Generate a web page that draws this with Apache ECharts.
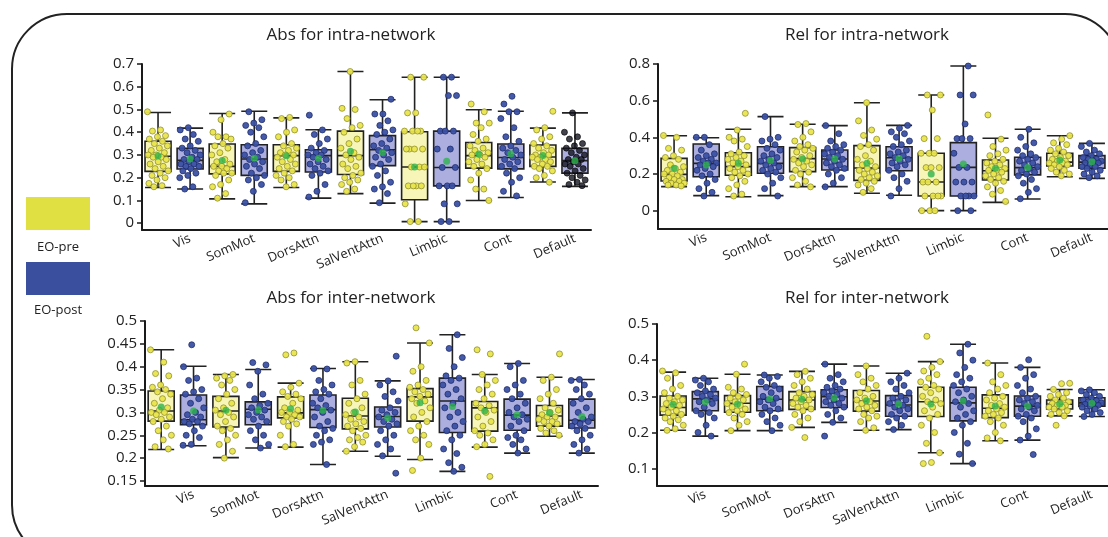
<!DOCTYPE html>
<html>
<head>
<meta charset="utf-8">
<script src="https://cdn.jsdelivr.net/npm/echarts@6/dist/echarts.min.js"></script>
<style>
html,body{margin:0;padding:0;background:#fff;}
#chart{width:1108px;height:537px;}
</style>
</head>
<body>
<div id="chart"></div>
<script>
// ---------- DATA ----------
const networks = ['Vis','SomMot','DorsAttn','SalVentAttn','Limbic','Cont','Default'];
const groups = ['EO-pre','EO-post'];
const panelTitles = ['Abs for intra-network','Rel for intra-network','Abs for inter-network','Rel for inter-network'];

// y tick labels per panel
const absIntraTicks = [0,0.1,0.2,0.3,0.4,0.5,0.6,0.7];
const relIntraTicks = [0,0.2,0.4,0.6,0.8];
const absInterTicks = [0.15,0.2,0.25,0.3,0.35,0.4,0.45,0.5];
const relInterTicks = [0.1,0.2,0.3,0.4,0.5];

// box stats [min, Q1, median, Q3, max], order: Vis-pre, Vis-post, SomMot-pre, ...
const absIntraBox = [
 [0.157,0.228,0.294,0.360,0.487],[0.150,0.238,0.276,0.329,0.418],
 [0.107,0.217,0.250,0.348,0.482],[0.085,0.210,0.282,0.345,0.492],
 [0.157,0.228,0.297,0.345,0.463],[0.110,0.225,0.297,0.323,0.411],
 [0.130,0.214,0.297,0.405,0.667],[0.088,0.253,0.323,0.385,0.543],
 [0.007,0.103,0.247,0.402,0.642],[0.007,0.164,0.245,0.405,0.642],
 [0.100,0.242,0.297,0.355,0.499],[0.113,0.239,0.289,0.348,0.492],
 [0.181,0.250,0.291,0.344,0.418],[0.162,0.220,0.275,0.329,0.485]
];
const absIntraMean = [0.297,0.282,0.276,0.286,0.297,0.285,0.316,0.311,0.247,0.272,0.304,0.305,0.298,0.275];
const absIntraPoints = [
 [0.49,0.41,0.405,0.385,0.38,0.37,0.36,0.35,0.34,0.33,0.32,0.31,0.30,0.30,0.29,0.29,0.28,0.27,0.26,0.25,0.24,0.23,0.22,0.21,0.20,0.19,0.175,0.165,0.16],
 [0.42,0.41,0.39,0.37,0.36,0.34,0.33,0.32,0.31,0.30,0.29,0.28,0.28,0.27,0.26,0.26,0.25,0.25,0.24,0.23,0.22,0.21,0.20,0.16,0.15],
 [0.48,0.455,0.40,0.38,0.38,0.37,0.35,0.34,0.33,0.31,0.30,0.28,0.27,0.26,0.25,0.25,0.24,0.23,0.22,0.22,0.21,0.19,0.17,0.16,0.13,0.11],
 [0.49,0.455,0.44,0.43,0.42,0.40,0.38,0.35,0.34,0.32,0.31,0.30,0.29,0.28,0.27,0.26,0.25,0.24,0.22,0.21,0.20,0.19,0.17,0.14,0.09],
 [0.465,0.46,0.41,0.40,0.38,0.35,0.34,0.33,0.32,0.31,0.30,0.30,0.29,0.28,0.27,0.26,0.25,0.24,0.23,0.22,0.21,0.20,0.19,0.17,0.16],
 [0.475,0.41,0.39,0.37,0.35,0.33,0.32,0.31,0.30,0.30,0.29,0.28,0.27,0.26,0.25,0.24,0.23,0.22,0.21,0.17,0.14,0.115],
 [0.667,0.505,0.50,0.46,0.43,0.42,0.40,0.37,0.35,0.33,0.31,0.30,0.29,0.28,0.26,0.25,0.24,0.22,0.21,0.20,0.19,0.18,0.17,0.15,0.14],
 [0.545,0.48,0.48,0.45,0.43,0.41,0.40,0.39,0.37,0.35,0.34,0.33,0.32,0.31,0.30,0.29,0.28,0.26,0.25,0.23,0.21,0.18,0.16,0.15,0.13,0.09],
 [0.642,0.642,0.485,0.485,0.405,0.405,0.405,0.405,0.326,0.326,0.326,0.326,0.247,0.247,0.247,0.164,0.164,0.164,0.164,0.085,0.007,0.007],
 [0.642,0.642,0.561,0.561,0.405,0.405,0.405,0.326,0.326,0.245,0.245,0.164,0.164,0.164,0.085,0.085,0.007,0.007],
 [0.524,0.49,0.44,0.44,0.42,0.39,0.37,0.36,0.34,0.33,0.32,0.31,0.30,0.30,0.29,0.28,0.27,0.26,0.25,0.24,0.22,0.19,0.15,0.15,0.10],
 [0.558,0.524,0.49,0.49,0.46,0.42,0.38,0.36,0.34,0.33,0.32,0.31,0.30,0.29,0.28,0.27,0.26,0.25,0.24,0.22,0.20,0.18,0.14,0.12],
 [0.492,0.42,0.41,0.38,0.37,0.35,0.34,0.33,0.32,0.31,0.30,0.30,0.29,0.29,0.28,0.28,0.27,0.26,0.25,0.25,0.24,0.23,0.21,0.20,0.18],
 [0.485,0.40,0.38,0.37,0.35,0.34,0.33,0.32,0.31,0.30,0.29,0.28,0.28,0.27,0.26,0.26,0.25,0.24,0.23,0.22,0.21,0.20,0.19,0.18,0.17,0.165]
];

const relIntraBox = [
 [0.131,0.162,0.198,0.285,0.409],[0.082,0.185,0.258,0.364,0.398],
 [0.076,0.193,0.240,0.316,0.444],[0.082,0.204,0.258,0.349,0.513],
 [0.131,0.213,0.284,0.344,0.471],[0.131,0.222,0.282,0.331,0.464],
 [0.095,0.165,0.233,0.355,0.589],[0.084,0.218,0.289,0.349,0.465],
 [0.000,0.080,0.156,0.313,0.631],[0.000,0.080,0.236,0.371,0.789],
 [0.045,0.167,0.218,0.276,0.395],[0.064,0.195,0.235,0.291,0.444],
 [0.185,0.244,0.265,0.313,0.409],[0.176,0.231,0.265,0.300,0.367]
];
const relIntraMean = [0.231,0.249,0.258,0.273,0.282,0.282,0.258,0.284,0.200,0.255,0.231,0.236,0.276,0.267];
const relIntraPoints = [
 [0.41,0.40,0.34,0.33,0.30,0.29,0.28,0.25,0.24,0.23,0.22,0.21,0.20,0.20,0.19,0.18,0.17,0.17,0.16,0.16,0.15,0.15,0.14,0.14,0.135],
 [0.40,0.40,0.36,0.33,0.31,0.30,0.29,0.28,0.27,0.26,0.26,0.25,0.24,0.23,0.22,0.20,0.19,0.17,0.15,0.12,0.10,0.08],
 [0.531,0.44,0.40,0.39,0.38,0.35,0.32,0.31,0.30,0.29,0.28,0.27,0.26,0.25,0.24,0.23,0.22,0.21,0.20,0.19,0.18,0.16,0.14,0.12,0.09,0.08],
 [0.513,0.40,0.39,0.38,0.36,0.34,0.33,0.31,0.30,0.29,0.28,0.27,0.26,0.25,0.24,0.23,0.22,0.21,0.20,0.18,0.15,0.12,0.08],
 [0.475,0.47,0.43,0.40,0.38,0.36,0.35,0.34,0.33,0.32,0.30,0.29,0.28,0.27,0.26,0.25,0.24,0.22,0.21,0.20,0.18,0.16,0.14,0.13],
 [0.464,0.42,0.38,0.36,0.35,0.34,0.33,0.32,0.31,0.30,0.29,0.28,0.27,0.26,0.25,0.24,0.23,0.22,0.20,0.18,0.15,0.13],
 [0.589,0.49,0.44,0.41,0.39,0.36,0.35,0.33,0.30,0.28,0.27,0.25,0.24,0.23,0.22,0.21,0.20,0.19,0.18,0.17,0.16,0.15,0.14,0.12,0.10],
 [0.465,0.45,0.43,0.42,0.40,0.38,0.36,0.35,0.33,0.32,0.31,0.30,0.29,0.28,0.27,0.26,0.25,0.24,0.22,0.20,0.18,0.16,0.12,0.08],
 [0.631,0.631,0.549,0.393,0.393,0.313,0.313,0.313,0.235,0.235,0.235,0.156,0.156,0.156,0.08,0.08,0.08,0.08,0.0,0.0,0.0],
 [0.789,0.631,0.631,0.473,0.393,0.393,0.393,0.313,0.236,0.236,0.156,0.156,0.156,0.08,0.08,0.08,0.08,0.0,0.0],
 [0.522,0.39,0.35,0.33,0.31,0.30,0.28,0.27,0.26,0.25,0.24,0.23,0.22,0.22,0.21,0.20,0.19,0.18,0.17,0.16,0.15,0.13,0.11,0.09,0.05],
 [0.444,0.40,0.37,0.35,0.33,0.31,0.30,0.29,0.28,0.27,0.26,0.25,0.24,0.23,0.22,0.21,0.20,0.19,0.17,0.15,0.12,0.10,0.065],
 [0.409,0.39,0.37,0.36,0.34,0.33,0.32,0.31,0.30,0.29,0.28,0.27,0.27,0.26,0.26,0.25,0.25,0.24,0.23,0.22,0.21,0.20,0.19],
 [0.367,0.35,0.33,0.32,0.31,0.30,0.29,0.28,0.28,0.27,0.27,0.26,0.26,0.25,0.24,0.24,0.23,0.22,0.21,0.20,0.19,0.18]
];

const absInterBox = [
 [0.219,0.281,0.303,0.347,0.437],[0.227,0.273,0.284,0.338,0.401],
 [0.201,0.268,0.303,0.335,0.383],[0.222,0.273,0.307,0.323,0.394],
 [0.224,0.288,0.299,0.334,0.364],[0.186,0.267,0.306,0.338,0.396],
 [0.215,0.264,0.292,0.331,0.411],[0.204,0.268,0.291,0.312,0.369],
 [0.197,0.281,0.334,0.352,0.452],[0.171,0.256,0.325,0.375,0.470],
 [0.224,0.259,0.310,0.324,0.383],[0.211,0.261,0.294,0.329,0.407],
 [0.248,0.270,0.292,0.315,0.377],[0.211,0.266,0.283,0.329,0.372]
];
const absInterMean = [0.312,0.303,0.305,0.306,0.308,0.305,0.301,0.288,0.321,0.313,0.303,0.295,0.299,0.291];
const absInterPoints = [
 [0.437,0.41,0.385,0.38,0.36,0.355,0.35,0.345,0.34,0.33,0.32,0.31,0.305,0.30,0.30,0.295,0.29,0.285,0.28,0.27,0.26,0.25,0.24,0.225,0.22],
 [0.448,0.40,0.375,0.37,0.35,0.345,0.34,0.33,0.32,0.31,0.30,0.295,0.29,0.285,0.28,0.28,0.275,0.27,0.26,0.25,0.245,0.23,0.228],
 [0.383,0.38,0.375,0.37,0.36,0.35,0.34,0.33,0.32,0.31,0.305,0.30,0.295,0.29,0.28,0.27,0.265,0.26,0.25,0.24,0.23,0.215,0.20],
 [0.409,0.404,0.39,0.36,0.34,0.33,0.32,0.315,0.31,0.305,0.30,0.295,0.29,0.285,0.28,0.27,0.26,0.25,0.24,0.23,0.222],
 [0.43,0.426,0.364,0.355,0.345,0.34,0.335,0.33,0.32,0.31,0.305,0.30,0.30,0.295,0.29,0.29,0.285,0.28,0.275,0.27,0.25,0.23,0.225],
 [0.396,0.395,0.37,0.36,0.35,0.345,0.34,0.33,0.32,0.315,0.31,0.305,0.30,0.29,0.28,0.27,0.265,0.26,0.25,0.24,0.235,0.23,0.186],
 [0.411,0.408,0.37,0.36,0.34,0.33,0.32,0.31,0.30,0.295,0.29,0.285,0.28,0.275,0.27,0.265,0.26,0.25,0.245,0.24,0.235,0.225,0.215],
 [0.423,0.369,0.36,0.345,0.335,0.325,0.31,0.305,0.30,0.295,0.29,0.285,0.28,0.275,0.27,0.26,0.25,0.24,0.23,0.22,0.205,0.167],
 [0.485,0.452,0.40,0.39,0.37,0.36,0.355,0.35,0.345,0.34,0.335,0.33,0.325,0.32,0.31,0.30,0.29,0.28,0.27,0.26,0.25,0.24,0.23,0.20,0.173],
 [0.47,0.44,0.42,0.40,0.38,0.375,0.37,0.36,0.35,0.34,0.33,0.32,0.31,0.30,0.29,0.28,0.27,0.26,0.25,0.24,0.22,0.21,0.19,0.18,0.171],
 [0.437,0.428,0.383,0.37,0.36,0.35,0.34,0.33,0.32,0.315,0.31,0.305,0.30,0.29,0.28,0.27,0.26,0.255,0.25,0.24,0.23,0.225,0.16],
 [0.407,0.40,0.37,0.36,0.35,0.34,0.33,0.32,0.31,0.30,0.295,0.29,0.285,0.28,0.27,0.26,0.25,0.245,0.24,0.23,0.22,0.211],
 [0.428,0.377,0.37,0.35,0.34,0.33,0.32,0.31,0.305,0.30,0.295,0.29,0.29,0.285,0.28,0.28,0.275,0.27,0.265,0.26,0.255,0.25],
 [0.372,0.37,0.36,0.35,0.34,0.33,0.32,0.31,0.30,0.29,0.285,0.28,0.28,0.275,0.27,0.265,0.26,0.25,0.24,0.23,0.22,0.211]
];

const relInterBox = [
 [0.206,0.248,0.269,0.301,0.367],[0.190,0.260,0.293,0.313,0.350],
 [0.205,0.256,0.281,0.302,0.361],[0.205,0.260,0.292,0.327,0.359],
 [0.214,0.264,0.290,0.313,0.369],[0.228,0.269,0.299,0.318,0.389],
 [0.206,0.259,0.287,0.316,0.384],[0.208,0.245,0.276,0.302,0.364],
 [0.144,0.244,0.285,0.325,0.396],[0.114,0.232,0.282,0.325,0.444],
 [0.177,0.241,0.267,0.304,0.392],[0.179,0.245,0.273,0.301,0.380],
 [0.246,0.265,0.278,0.290,0.319],[0.244,0.273,0.282,0.296,0.318]
];
const relInterMean = [0.278,0.284,0.279,0.293,0.292,0.296,0.288,0.279,0.279,0.287,0.273,0.273,0.279,0.281];
const relInterPoints = [
 [0.37,0.365,0.35,0.33,0.32,0.31,0.30,0.295,0.29,0.285,0.28,0.275,0.27,0.265,0.26,0.255,0.25,0.245,0.24,0.235,0.23,0.22,0.21,0.206],
 [0.35,0.345,0.34,0.33,0.32,0.315,0.31,0.305,0.30,0.295,0.29,0.285,0.28,0.27,0.26,0.255,0.25,0.24,0.22,0.20,0.19],
 [0.389,0.361,0.325,0.32,0.31,0.305,0.30,0.295,0.29,0.285,0.28,0.275,0.27,0.265,0.26,0.255,0.25,0.24,0.23,0.22,0.205],
 [0.359,0.355,0.35,0.34,0.33,0.325,0.32,0.31,0.30,0.295,0.29,0.285,0.28,0.27,0.265,0.26,0.25,0.24,0.23,0.22,0.205],
 [0.369,0.36,0.35,0.34,0.33,0.32,0.31,0.305,0.30,0.295,0.29,0.285,0.28,0.275,0.27,0.265,0.26,0.25,0.24,0.23,0.214,0.186],
 [0.389,0.36,0.35,0.34,0.33,0.325,0.32,0.315,0.31,0.305,0.30,0.295,0.29,0.285,0.28,0.275,0.27,0.26,0.25,0.24,0.228,0.19],
 [0.384,0.36,0.35,0.34,0.33,0.32,0.31,0.30,0.295,0.29,0.285,0.28,0.275,0.27,0.265,0.26,0.25,0.245,0.24,0.23,0.213,0.206],
 [0.364,0.35,0.34,0.33,0.32,0.31,0.30,0.295,0.29,0.285,0.28,0.275,0.27,0.265,0.26,0.25,0.245,0.24,0.23,0.22,0.208],
 [0.466,0.396,0.38,0.37,0.36,0.35,0.34,0.33,0.325,0.32,0.31,0.30,0.29,0.285,0.28,0.27,0.26,0.25,0.24,0.22,0.20,0.17,0.144,0.117,0.114],
 [0.444,0.42,0.40,0.38,0.36,0.35,0.34,0.33,0.32,0.31,0.30,0.29,0.285,0.28,0.27,0.26,0.25,0.24,0.23,0.22,0.20,0.17,0.14,0.114],
 [0.392,0.36,0.34,0.33,0.32,0.31,0.30,0.295,0.29,0.28,0.275,0.27,0.265,0.26,0.255,0.25,0.245,0.24,0.23,0.22,0.20,0.185,0.177],
 [0.401,0.38,0.36,0.35,0.33,0.32,0.31,0.30,0.295,0.29,0.285,0.28,0.275,0.27,0.265,0.26,0.25,0.245,0.24,0.23,0.21,0.19,0.179,0.139],
 [0.336,0.335,0.319,0.31,0.305,0.30,0.295,0.29,0.285,0.28,0.28,0.275,0.275,0.27,0.27,0.265,0.26,0.255,0.25,0.246,0.22],
 [0.318,0.315,0.31,0.305,0.30,0.295,0.29,0.288,0.285,0.282,0.28,0.278,0.275,0.273,0.27,0.265,0.26,0.255,0.25,0.244]
];

// ---------- LAYOUT / STYLE ----------
const FONT = '"Open Sans", "DejaVu Sans", sans-serif';
const slots = [];
networks.forEach(n => groups.forEach(g => slots.push(n + '|' + g)));

const panels = [
  {box: absIntraBox, mean: absIntraMean, pts: absIntraPoints, ticks: absIntraTicks, min: -0.03, max: 0.7,
   grid: {left: 142, top: 64, width: 449, height: 166}, title: [351, 35], darkLast: true},
  {box: relIntraBox, mean: relIntraMean, pts: relIntraPoints, ticks: relIntraTicks, min: -0.1, max: 0.8,
   grid: {left: 658, top: 64, width: 453, height: 165}, title: [867, 35]},
  {box: absInterBox, mean: absInterMean, pts: absInterPoints, ticks: absInterTicks, min: 0.139, max: 0.5,
   grid: {left: 145, top: 321, width: 453, height: 165}, title: [351, 298]},
  {box: relInterBox, mean: relInterMean, pts: relInterPoints, ticks: relInterTicks, min: 0.052, max: 0.5,
   grid: {left: 657, top: 324, width: 453, height: 162}, title: [867, 298]}
];

const preFill = '#f7f5b8', postFill = '#abaede';
const prePt = '#e9e54c', preBorder = '#8c8a2a';
const postPt = '#3b51a3', postBorder = '#1d2b6b';
const meanColor = '#2eb34b';

function jitter(k, s) {
  const f = (k * 0.6180339887 + s * 0.4142136) % 1;
  return (f - 0.5) * 0.66;
}

const grids = [], xAxes = [], yAxes = [], series = [], graphics = [];

panels.forEach((p, pi) => {
  grids.push(Object.assign({}, p.grid));
  // visible category axis (14 slots)
  xAxes.push({
    type: 'category', gridIndex: pi, data: slots, boundaryGap: true,
    axisLine: {onZero: false, lineStyle: {color: '#1a1a1a', width: 2}},
    axisTick: {show: false},
    axisLabel: {
      interval: (i) => i % 2 === 1,
      formatter: (v) => v.split('|')[0],
      rotate: 23, margin: 8, fontSize: 13, color: '#222', fontFamily: FONT
    },
    splitLine: {show: false}
  });
  // hidden value axis for jittered points
  xAxes.push({type: 'value', gridIndex: pi, min: 0, max: 14, show: false});
  yAxes.push({
    type: 'value', gridIndex: pi, min: p.min, max: p.max,
    axisLine: {show: true, onZero: false, lineStyle: {color: '#1a1a1a', width: 2}},
    axisTick: {show: true, length: 5, customValues: p.ticks, lineStyle: {color: '#1a1a1a', width: 1.5}},
    axisLabel: {customValues: p.ticks, fontSize: 15, color: '#222', margin: 8, fontFamily: FONT},
    splitLine: {show: false}
  });
  const catX = pi * 2, valX = pi * 2 + 1;
  series.push({
    type: 'boxplot', xAxisIndex: catX, yAxisIndex: pi, boxWidth: [26, 26], z: 2,
    itemStyle: {borderColor: '#222', borderWidth: 1.6},
    data: p.box.map((b, i) => ({value: b, itemStyle: {color: i % 2 === 0 ? preFill : postFill}})),
    silent: true
  });
  const preData = [], postData = [], darkData = [];
  p.pts.forEach((arr, s) => {
    arr.forEach((v, k) => {
      const pt = [s + 0.5 + jitter(k, s), v];
      if (s % 2 === 0) preData.push(pt);
      else if (p.darkLast && s === 13) darkData.push(pt);
      else postData.push(pt);
    });
  });
  series.push({type: 'scatter', xAxisIndex: valX, yAxisIndex: pi, symbolSize: 6, z: 3, silent: true,
    itemStyle: {color: prePt, borderColor: preBorder, borderWidth: 0.8, opacity: 0.95}, data: preData});
  series.push({type: 'scatter', xAxisIndex: valX, yAxisIndex: pi, symbolSize: 6, z: 3, silent: true,
    itemStyle: {color: postPt, borderColor: postBorder, borderWidth: 0.8, opacity: 0.95}, data: postData});
  if (darkData.length) {
    series.push({type: 'scatter', xAxisIndex: valX, yAxisIndex: pi, symbolSize: 6, z: 3, silent: true,
      itemStyle: {color: '#141420', borderColor: '#000', borderWidth: 0.8}, data: darkData});
  }
  series.push({type: 'scatter', xAxisIndex: valX, yAxisIndex: pi, symbolSize: 7, z: 4, silent: true,
    itemStyle: {color: meanColor},
    data: p.mean.map((m, s) => [s + 0.5, m])});
  graphics.push({type: 'text', x: p.title[0], y: p.title[1], z: 10,
    style: {text: panelTitles[pi], fill: '#222', font: '17px ' + FONT, textAlign: 'center', textVerticalAlign: 'middle'}});
});

// frame and legend
graphics.push({type: 'rect', shape: {x: 12, y: 14, width: 1108, height: 546, r: 55}, z: 0,
  style: {fill: 'none', stroke: '#222', lineWidth: 2}});
graphics.push({type: 'rect', shape: {x: 26, y: 197, width: 64, height: 33}, style: {fill: '#e1e042'}});
graphics.push({type: 'text', x: 58, y: 247, style: {text: groups[0], fill: '#222', font: '13px ' + FONT, textAlign: 'center', textVerticalAlign: 'middle'}});
graphics.push({type: 'rect', shape: {x: 26, y: 262, width: 64, height: 33}, style: {fill: '#3a4f9e'}});
graphics.push({type: 'text', x: 58, y: 310, style: {text: groups[1], fill: '#222', font: '13px ' + FONT, textAlign: 'center', textVerticalAlign: 'middle'}});

const chart = echarts.init(document.getElementById('chart'), null, {renderer: 'canvas'});
chart.setOption({
  backgroundColor: '#fff',
  animation: false,
  grid: grids,
  xAxis: xAxes,
  yAxis: yAxes,
  series: series,
  graphic: graphics
});
</script>
</body>
</html>
